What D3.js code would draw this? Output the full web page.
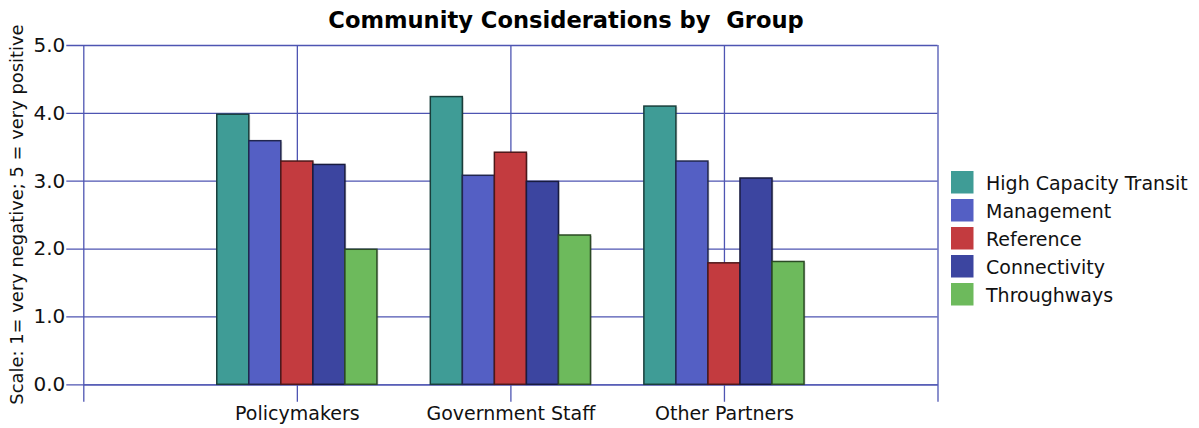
<!DOCTYPE html>
<html>
<head>
<meta charset="utf-8">
<script src="https://cdn.jsdelivr.net/npm/d3@7"></script>
<style>
  html, body { margin: 0; padding: 0; background: #fff; }
  svg { display: block; font-family: "DejaVu Sans", Verdana, sans-serif; }
</style>
</head>
<body>
<svg id="chart" width="1199" height="428"></svg>
<script>
// Groups along the x axis
const groups = ["Policymakers", "Government Staff", "Other Partners"];
// Series (one bar per series in each group)
const seriesNames = ["High Capacity Transit", "Management", "Reference", "Connectivity", "Throughways"];
const seriesColors = ["#3F9C96", "#545FC4", "#C33B3F", "#3C45A0", "#6DBA5C"];
// Mean ratings, one array per series, in group order
const highCapacityTransit = [3.98, 4.24, 4.10];
const management = [3.59, 3.08, 3.29];
const reference = [3.29, 3.42, 1.79];
const connectivity = [3.24, 2.99, 3.04];
const throughways = [1.99, 2.20, 1.81];
const yTicks = [0, 1, 2, 3, 4, 5];

const seriesValues = [highCapacityTransit, management, reference, connectivity, throughways];

const svg = d3.select("#chart");
const plotLeft = 83.3, plotRight = 937.5, plotTop = 45, plotBottom = 384.3;
const gridColor = "#4E55B2";
const fontStack = "DejaVu Sans, Verdana, sans-serif";

// Categories sit at integer positions 1..3 of a 0..4 linear axis
const x = d3.scaleLinear().domain([0, groups.length + 1]).range([plotLeft, plotRight]);
const y = d3.scaleLinear().domain([0, 5]).range([plotBottom, plotTop]);
const groupWidth = (x(1) - x(0)) * 0.75;
const xInner = d3.scaleBand().domain(seriesNames).range([-groupWidth / 2, groupWidth / 2]).padding(0);

// Horizontal gridlines + y axis
const yAxis = d3.axisLeft(y).tickValues(yTicks).tickFormat(d3.format(".1f"))
  .tickSize(-(plotRight - plotLeft)).tickPadding(4);
const gy = svg.append("g").attr("transform", `translate(${plotLeft},0)`).call(yAxis);
gy.select(".domain").remove();
gy.selectAll(".tick line").attr("stroke", gridColor).attr("stroke-width", 1.3)
  .attr("x1", -17);
gy.selectAll(".tick text").attr("x", -18).attr("font-size", 20).attr("fill", "#111")
  .attr("font-family", fontStack);

// Vertical gridlines at axis ends and at each category
const xTickVals = d3.range(0, groups.length + 2);
const xAxis = d3.axisBottom(x).tickValues(xTickVals)
  .tickFormat(d => (d >= 1 && d <= groups.length) ? groups[d - 1] : "")
  .tickSizeInner(-(plotBottom - plotTop)).tickSizeOuter(0).tickPadding(22);
const gx = svg.append("g").attr("transform", `translate(0,${plotBottom})`).call(xAxis);
gx.select(".domain").attr("stroke", gridColor).attr("stroke-width", 1.3);
gx.selectAll(".tick line").attr("stroke", gridColor).attr("stroke-width", 1.3).attr("y1", 17.5);
gx.selectAll(".tick text").attr("font-size", 19).attr("fill", "#111")
  .attr("font-family", fontStack);

// Bars
const barLayer = svg.append("g");
groups.forEach((g, gi) => {
  seriesNames.forEach((s, si) => {
    const v = seriesValues[si][gi];
    const bx = x(gi + 1) + xInner(s);
    // soft shadow
    barLayer.append("rect")
      .attr("x", bx + 1.5).attr("y", y(v) + 1)
      .attr("width", xInner.bandwidth()).attr("height", y(0) - y(v) - 1)
      .attr("fill", "#000").attr("opacity", 0.15);
    barLayer.append("rect")
      .attr("x", bx).attr("y", y(v))
      .attr("width", xInner.bandwidth()).attr("height", y(0) - y(v))
      .attr("fill", seriesColors[si])
      .attr("stroke", d3.color(seriesColors[si]).darker(2.6))
      .attr("stroke-width", 1.5);
  });
});

// Title
svg.append("text").attr("x", 566).attr("y", 28).attr("text-anchor", "middle")
  .attr("font-size", 22.6).attr("font-weight", "bold").attr("fill", "#000")
  .attr("xml:space", "preserve").style("white-space", "pre")
  .text("Community Considerations by  Group");

// Y axis title
svg.append("text")
  .attr("transform", `translate(23,${(27 + 402) / 2}) rotate(-90)`)
  .attr("text-anchor", "middle").attr("font-size", 17.9).attr("fill", "#111")
  .text("Scale: 1= very negative; 5 = very positive");

// Legend
const legend = svg.append("g").attr("transform", "translate(951,171)");
seriesNames.forEach((s, i) => {
  const row = legend.append("g").attr("transform", `translate(0,${i * 28})`);
  row.append("rect").attr("width", 22.5).attr("height", 22.5).attr("fill", seriesColors[i]);
  row.append("text").attr("x", 35).attr("y", 19).attr("font-size", 19).attr("fill", "#111")
    .text(s);
});
</script>
</body>
</html>
